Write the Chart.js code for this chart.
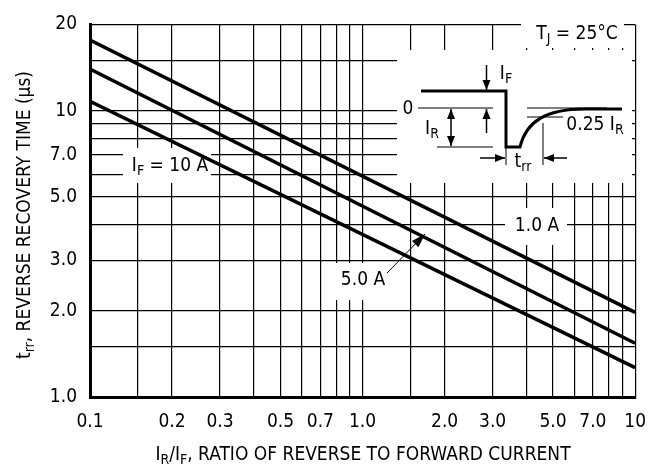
<!DOCTYPE html>
<html>
<head>
<meta charset="utf-8">
<script src="https://cdn.jsdelivr.net/npm/chart.js@4"></script>
<style>
  html, body { margin: 0; padding: 0; background: #fff; }
  #wrap { width: 660px; height: 470px; }
</style>
</head>
<body>
<div id="wrap"><canvas id="chart" width="660" height="470"></canvas></div>
<script>
// values (log-log straight lines)
const xValues = [0.1, 10];
const trr1A = [17.65, 1.975];
const trr5A = [13.96, 1.54];
const trr10A = [10.78, 1.267];

const xGrid = [0.1, 0.15, 0.2, 0.3, 0.4, 0.5, 0.6, 0.7, 0.8, 0.9, 1, 1.5, 2, 3, 4, 5, 6, 7, 8, 9, 10];
const xLabelValues = [0.1, 0.2, 0.3, 0.5, 0.7, 1, 2, 3, 5, 7, 10];
const xLabelText = ['0.1', '0.2', '0.3', '0.5', '0.7', '1.0', '2.0', '3.0', '5.0', '7.0', '10'];

const yGrid = [1, 1.5, 2, 3, 4, 5, 6, 7, 8, 9, 10, 15, 20];
const yLabelValues = [1, 2, 3, 5, 7, 10, 20];
const yLabelText = ['1.0', '2.0', '3.0', '5.0', '7.0', '10', '20'];

const FONT = "'DejaVu Sans Condensed', 'Liberation Sans Narrow', sans-serif";
const FS = 19;

const toPoints = (ys) => xValues.map((x, i) => ({ x: x, y: ys[i] }));

// draw text made of parts, some of them subscript
const drawParts = (ctx, parts, x, y, align) => {
  const widths = parts.map(p => {
    ctx.font = (p.sub ? Math.round(FS * 0.72) : FS) + 'px ' + FONT;
    return ctx.measureText(p.t).width;
  });
  const total = widths.reduce((a, b) => a + b, 0);
  let cx = align === 'center' ? x - total / 2 : x;
  ctx.textBaseline = 'middle';
  ctx.textAlign = 'left';
  parts.forEach((p, i) => {
    ctx.font = (p.sub ? Math.round(FS * 0.72) : FS) + 'px ' + FONT;
    ctx.fillText(p.t, cx, p.sub ? y + 5 : y);
    cx += widths[i];
  });
};

const arrow = (ctx, x1, y1, x2, y2, head, half) => {
  head = head || 9;
  half = half || 3.5;
  ctx.beginPath();
  ctx.moveTo(x1, y1);
  ctx.lineTo(x2, y2);
  ctx.stroke();
  const a = Math.atan2(y2 - y1, x2 - x1);
  ctx.beginPath();
  ctx.moveTo(x2, y2);
  ctx.lineTo(x2 - head * Math.cos(a) + half * Math.sin(a), y2 - head * Math.sin(a) - half * Math.cos(a));
  ctx.lineTo(x2 - head * Math.cos(a) - half * Math.sin(a), y2 - head * Math.sin(a) + half * Math.cos(a));
  ctx.closePath();
  ctx.fill();
};

const line = (ctx, x1, y1, x2, y2) => {
  ctx.beginPath();
  ctx.moveTo(x1, y1);
  ctx.lineTo(x2, y2);
  ctx.stroke();
};

const overlay = {
  id: 'overlay',
  beforeDatasetsDraw(chart) {
    const ctx = chart.ctx;
    ctx.save();
    ctx.fillStyle = '#fff';
    // white boxes hiding the grid
    ctx.fillRect(397, 50, 235, 133);   // inset
    ctx.fillRect(521, 18, 103, 30);    // TJ
    ctx.fillRect(123, 148, 88, 35);    // IF = 10 A
    ctx.fillRect(505, 208, 62, 37);    // 1.0 A
    ctx.fillRect(335, 263, 55, 37);    // 5.0 A
    ctx.restore();
  },
  afterDatasetsDraw(chart) {
    const ctx = chart.ctx;
    ctx.save();
    ctx.fillStyle = '#000';
    ctx.strokeStyle = '#000';

    // curve labels
    drawParts(ctx, [{ t: 'I' }, { t: 'F', sub: true }, { t: ' = 10 A' }], 170, 166, 'center');
    drawParts(ctx, [{ t: '1.0 A' }], 537, 226, 'center');
    drawParts(ctx, [{ t: '5.0 A' }], 363, 280, 'center');
    ctx.lineWidth = 1;
    arrow(ctx, 387, 273, 425, 234, 14, 4.5);

    // TJ
    drawParts(ctx, [{ t: 'T' }, { t: 'J', sub: true }, { t: ' = 25°C' }], 577, 34, 'center');

    // inset waveform
    ctx.lineWidth = 3;
    ctx.beginPath();
    ctx.moveTo(421, 91);
    ctx.lineTo(506, 91);
    ctx.lineTo(506, 147);
    ctx.lineTo(520, 147);
    ctx.bezierCurveTo(526, 122, 545, 109, 585, 109);
    ctx.lineTo(622, 109);
    ctx.stroke();

    ctx.lineWidth = 1;
    line(ctx, 418, 108, 493, 108);
    line(ctx, 527, 108, 607, 108);
    line(ctx, 527, 117, 563, 117);
    line(ctx, 437, 147, 493, 147);
    line(ctx, 506, 147, 506, 165);
    line(ctx, 543, 123, 543, 165);

    ctx.lineWidth = 1.5;
    arrow(ctx, 451, 128, 451, 109, 10, 4);
    arrow(ctx, 451, 128, 451, 146, 10, 4);
    arrow(ctx, 486.5, 133, 486.5, 109, 10, 4);
    arrow(ctx, 486.5, 65, 486.5, 90, 10, 4);
    arrow(ctx, 480, 158, 505, 158, 10, 4);
    arrow(ctx, 567, 158, 544, 158, 10, 4);

    drawParts(ctx, [{ t: '0' }], 408, 109, 'center');
    drawParts(ctx, [{ t: 'I' }, { t: 'R', sub: true }], 432, 129, 'center');
    drawParts(ctx, [{ t: 'I' }, { t: 'F', sub: true }], 506, 74, 'center');
    drawParts(ctx, [{ t: 't' }, { t: 'rr', sub: true }], 523, 162, 'center');
    drawParts(ctx, [{ t: '0.25 I' }, { t: 'R', sub: true }], 595, 125, 'center');

    // axis titles
    drawParts(ctx, [{ t: 'I' }, { t: 'R', sub: true }, { t: '/I' }, { t: 'F', sub: true }, { t: ', RATIO OF REVERSE TO FORWARD CURRENT' }], 363, 455, 'center');
    ctx.translate(25, 215);
    ctx.rotate(-Math.PI / 2);
    drawParts(ctx, [{ t: 't' }, { t: 'rr', sub: true }, { t: ', REVERSE RECOVERY TIME (\u03bcs)' }], 0, 0, 'center');
    ctx.restore();
  }
};

const lineStyle = { borderColor: '#000', borderWidth: 3.5, pointRadius: 0, fill: false, tension: 0 };

new Chart(document.getElementById('chart'), {
  type: 'line',
  data: {
    datasets: [
      Object.assign({ label: '1.0 A', data: toPoints(trr1A) }, lineStyle),
      Object.assign({ label: '5.0 A', data: toPoints(trr5A) }, lineStyle),
      Object.assign({ label: '10 A', data: toPoints(trr10A) }, lineStyle)
    ]
  },
  options: {
    responsive: false,
    animation: false,
    layout: { padding: { left: 0, right: 23, top: 14, bottom: 0 } },
    plugins: { legend: { display: false }, tooltip: { enabled: false } },
    scales: {
      x: {
        type: 'logarithmic',
        min: 0.1,
        max: 10,
        afterBuildTicks: (scale) => { scale.ticks = xGrid.map(v => ({ value: v })); },
        afterFit: (scale) => { scale.height = 73; },
        grid: { color: '#000', lineWidth: 1.2, drawTicks: false },
        border: { color: '#000', width: 3 },
        ticks: {
          autoSkip: false,
          maxRotation: 0,
          padding: 14,
          color: '#000',
          font: { family: FONT, size: FS },
          callback: (value) => {
            const i = xLabelValues.indexOf(value);
            return i >= 0 ? xLabelText[i] : '';
          }
        }
      },
      y: {
        type: 'logarithmic',
        min: 1,
        max: 20,
        afterBuildTicks: (scale) => { scale.ticks = yGrid.map(v => ({ value: v })); },
        afterFit: (scale) => { scale.width = 90; },
        grid: { color: '#000', lineWidth: 1.2, drawTicks: false },
        border: { color: '#000', width: 3 },
        ticks: {
          autoSkip: false,
          padding: 13,
          color: '#000',
          font: { family: FONT, size: FS },
          callback: (value) => {
            const i = yLabelValues.indexOf(value);
            return i >= 0 ? yLabelText[i] : '';
          }
        }
      }
    }
  },
  plugins: [overlay]
});
</script>
</body>
</html>
